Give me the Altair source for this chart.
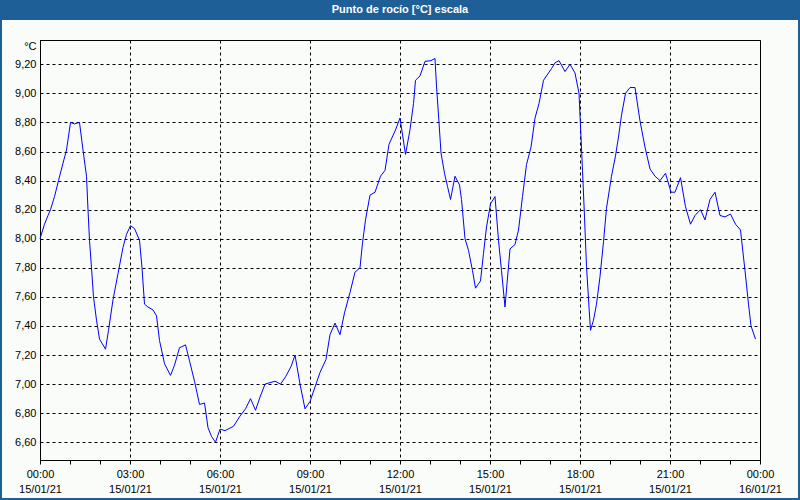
import altair as alt
import pandas as pd

# minutes after 15/01/21 00:00
minutes = [0, 9, 16, 21, 29, 37, 46, 53, 61, 69, 79, 86, 93, 96, 99, 103, 107, 113, 119, 131,
           137, 146, 156, 166, 173, 181, 189, 199, 204, 209, 216, 226, 233, 239, 249, 261, 269, 279, 291, 299,
           309, 319, 329, 336, 343, 351, 360, 370, 387, 400, 411, 421, 431, 440, 450, 460, 470, 481, 491, 502,
           510, 520, 530, 540, 550, 560, 572, 580, 590, 600, 609, 620, 630, 640, 645, 651, 660, 670, 681, 690,
           698, 710, 720, 731, 740, 747, 751, 760, 770, 782, 790, 793, 798, 802, 809, 815, 821, 830, 839, 843,
           850, 857, 865, 871, 881, 887, 893, 901, 910, 917, 923, 930, 940, 950, 957, 965, 973, 982, 990, 998,
           1007, 1017, 1023, 1030, 1038, 1050, 1060, 1070, 1078, 1082, 1085, 1089, 1093, 1098, 1101, 1107, 1113, 1120, 1127, 1133,
           1143, 1151, 1157, 1163, 1171, 1180, 1190, 1200, 1210, 1220, 1230, 1240, 1251, 1262, 1270, 1281, 1291, 1301, 1310, 1321,
           1330, 1340, 1350, 1360, 1370, 1381, 1391, 1401, 1410, 1417, 1422, 1431]
dew_point = [8.00, 8.10, 8.16, 8.20, 8.29, 8.40, 8.52, 8.61, 8.80, 8.79, 8.80, 8.61, 8.43, 8.20, 7.99, 7.80, 7.60, 7.44, 7.31, 7.24,
             7.37, 7.58, 7.76, 7.94, 8.03, 8.09, 8.07, 7.99, 7.80, 7.55, 7.53, 7.51, 7.47, 7.30, 7.14, 7.06, 7.13, 7.25, 7.27, 7.16,
             7.02, 6.86, 6.87, 6.70, 6.64, 6.60, 6.69, 6.68, 6.71, 6.78, 6.83, 6.90, 6.82, 6.91, 7.00, 7.01, 7.02, 7.00, 7.05, 7.12,
             7.20, 7.00, 6.83, 6.88, 6.98, 7.08, 7.17, 7.34, 7.42, 7.34, 7.49, 7.63, 7.77, 7.80, 7.97, 8.13, 8.30, 8.32, 8.43, 8.47,
             8.65, 8.74, 8.83, 8.58, 8.75, 8.93, 9.09, 9.12, 9.22, 9.225, 9.24, 9.05, 8.80, 8.59, 8.45, 8.36, 8.27, 8.43, 8.37, 8.27,
             8.00, 7.92, 7.78, 7.66, 7.71, 7.90, 8.08, 8.24, 8.29, 7.99, 7.78, 7.53, 7.93, 7.96, 8.06, 8.29, 8.51, 8.63, 8.83, 8.93,
             9.09, 9.14, 9.17, 9.21, 9.225, 9.15, 9.20, 9.14, 9.00, 8.70, 8.47, 8.15, 7.81, 7.53, 7.37, 7.44, 7.55, 7.74, 7.98, 8.21,
             8.43, 8.57, 8.70, 8.85, 9.00, 9.04, 9.04, 8.81, 8.63, 8.48, 8.43, 8.40, 8.45, 8.32, 8.32, 8.42, 8.22, 8.10, 8.16, 8.20,
             8.13, 8.27, 8.32, 8.16, 8.15, 8.17, 8.10, 8.06, 7.78, 7.55, 7.40, 7.31]

y_ticks = [6.6, 6.8, 7.0, 7.2, 7.4, 7.6, 7.8, 8.0, 8.2, 8.4, 8.6, 8.8, 9.0, 9.2]
title_text = "Punto de rocío [°C] escala"
unit_text = "°C"

base_ts = pd.Timestamp("2021-01-15 00:00")
df = pd.DataFrame({
    "t": [(base_ts + pd.Timedelta(minutes=m)).strftime("%Y-%m-%dT%H:%M:%S") for m in minutes],
    "v": dew_point,
})

FONT = "Liberation Sans"
BLUE = "#1f5f97"

x_vals = [alt.DateTime(year=2021, month=1, date=15, hours=h) for h in range(24)] + \
         [alt.DateTime(year=2021, month=1, date=16, hours=0)]

line = alt.Chart(df).mark_line(color="#0000ff", strokeWidth=1, interpolate="linear").encode(
    x=alt.X("t:T",
            scale=alt.Scale(domain=[alt.DateTime(year=2021, month=1, date=15, hours=0),
                                    alt.DateTime(year=2021, month=1, date=16, hours=0)], nice=False),
            axis=alt.Axis(values=x_vals, title=None,
                          labelExpr="hours(datum.value) % 3 == 0 ? [timeFormat(datum.value, '%H:%M'), timeFormat(datum.value, '%d/%m/%y')] : ''",
                          labelFont=FONT, labelFontSize=11, labelColor="#000000",
                          labelLineHeight=15, labelPadding=4, labelOverlap=False, labelFlush=False,
                          labelBaseline="top",
                          tickSize=4, tickColor="#000000", domainColor="#000000",
                          grid=True, gridColor="#000000", gridDash=[3, 3], gridWidth=1,
                          gridOpacity={"condition": {"test": "hours(datum.value) % 3 != 0", "value": 0}, "value": 1})),
    y=alt.Y("v:Q",
            scale=alt.Scale(domain=[6.478, 9.367], nice=False, zero=False),
            axis=alt.Axis(values=y_ticks, title=unit_text, titleAngle=0, titleAlign="right",
                          titleBaseline="middle", titleX=-4, titleY=6, titleFont=FONT,
                          titleFontSize=11, titleFontWeight="normal", titleColor="#000000",
                          labelExpr="replace(format(datum.value, '.2f'), '.', ',')",
                          labelFont=FONT, labelFontSize=11, labelColor="#000000", labelPadding=4,
                          tickSize=0, domainColor="#000000",
                          grid=True, gridColor="#000000", gridDash=[3, 3], gridWidth=1)),
)

one = pd.DataFrame({"k": [0]})

title_bar = alt.Chart(one).mark_rect(color=BLUE).encode(
    x=alt.value(-40), x2=alt.value(760), y=alt.value(-40), y2=alt.value(-20))

title = alt.Chart(one).mark_text(color="white", font="Liberation Sans", fontSize=11,
                                 fontWeight="bold", align="center", baseline="middle").encode(
    x=alt.value(360), y=alt.value(-30), text=alt.value(title_text))

border = alt.Chart(one).mark_rect(fill=None, filled=False, stroke=BLUE, strokeWidth=2).encode(
    x=alt.value(-39), x2=alt.value(759), y=alt.value(-39), y2=alt.value(459))

chart = alt.layer(title_bar, line, title, border).properties(
    width=720, height=420,
    autosize=alt.AutoSizeParams(type="none"),
    padding={"left": 40, "top": 40, "right": 40, "bottom": 40},
    background="#fafcfa",
).configure_view(stroke="#000000", strokeWidth=1)

chart.save("out.html", embed_options={"renderer": "svg", "actions": False})
